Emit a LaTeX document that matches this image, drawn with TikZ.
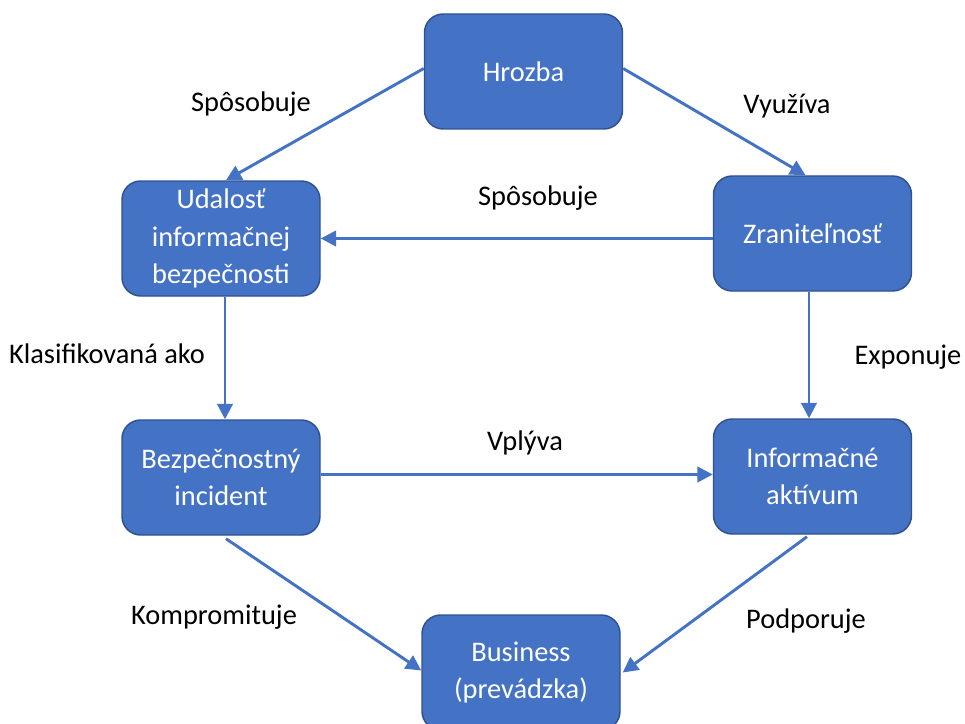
\documentclass[tikz,border=0pt]{standalone}
\usepackage{fontspec}
\setmainfont{Carlito}
\usetikzlibrary{arrows.meta,calc}
\definecolor{boxfill}{HTML}{4472C4}
\definecolor{boxedge}{HTML}{2F528F}
\definecolor{arrowcol}{HTML}{4472C4}
\begin{document}
\begin{tikzpicture}[x=0.75pt,y=-0.75pt,
  box/.style={draw=boxedge,line width=1.1pt,fill=boxfill,rounded corners=14pt,
    minimum width=148.5pt,minimum height=86.25pt,text=white,align=center,
    font=\fontsize{21.3}{28}\selectfont,inner sep=0pt},
  lbl/.style={text=black,font=\fontsize{21.3}{25}\selectfont,inner sep=0pt},
  conn/.style={draw=arrowcol,line width=2.2pt,-{Triangle[length=11.5pt,width=11.5pt]}}]
\useasboundingbox (0,0) rectangle (965,724);
\node[box] (hrozba) at (523.5,71.5) {Hrozba};
\node[box] (udalost) at (221,238.5) {Udalosť\\informačnej\\bezpečnosti};
\node[box] (zranit) at (812.5,233.5) {Zraniteľnosť};
\node[box] (bezp) at (221,477.5) {Bezpečnostný\\incident};
\node[box] (info) at (812.5,476.5) {Informačné\\aktívum};
\node[box] (business) at (521,672.5) {Business\\(prevádzka)};

\node[lbl] (l1) at (251,104) {Spôsobuje};
\node[lbl] (l2) at (787,106) {Využíva};
\node[lbl] (l3) at (538,198) {Spôsobuje};
\node[lbl] (l4) at (107,354) {Klasifikovaná ako};
\node[lbl] (l5) at (908,357) {Exponuje};
\node[lbl] (l6) at (525,443) {Vplýva};
\node[lbl] (l7) at (214,617) {Kompromituje};
\node[lbl] (l8) at (806,621) {Podporuje};

\coordinate (a1s) at ($(hrozba.west)+(0,-3)$);
\coordinate (a1e) at ($(udalost.north)+(5,0)$);
\draw[conn] (a1s) -- (a1e);
\coordinate (a2s) at ($(hrozba.east)+(0,-3)$);
\coordinate (a2e) at ($(zranit.north)+(-7,0)$);
\draw[conn] (a2s) -- (a2e);
\draw[conn] (zranit.west |- udalost.east) -- (udalost.east);
\coordinate (a4s) at ($(udalost.south)+(4,0)$);
\draw[conn] (a4s) -- (a4s |- bezp.north);
\coordinate (a5s) at ($(zranit.south)+(-3.5,0)$);
\draw[conn] (a5s) -- (a5s |- info.north);
\coordinate (a6s) at ($(bezp.east)+(0,-3)$);
\draw[conn] (a6s) -- (a6s -| info.west);
\coordinate (a7s) at ($(bezp.south)+(5,3)$);
\coordinate (a7e) at ($(business.west)+(0,-2)$);
\draw[conn] (a7s) -- (a7e);
\coordinate (a8s) at ($(info.south)+(-5.5,2)$);
\coordinate (a8e) at ($(business.east)+(2,0)$);
\draw[conn] (a8s) -- (a8e);
\end{tikzpicture}
\end{document}
